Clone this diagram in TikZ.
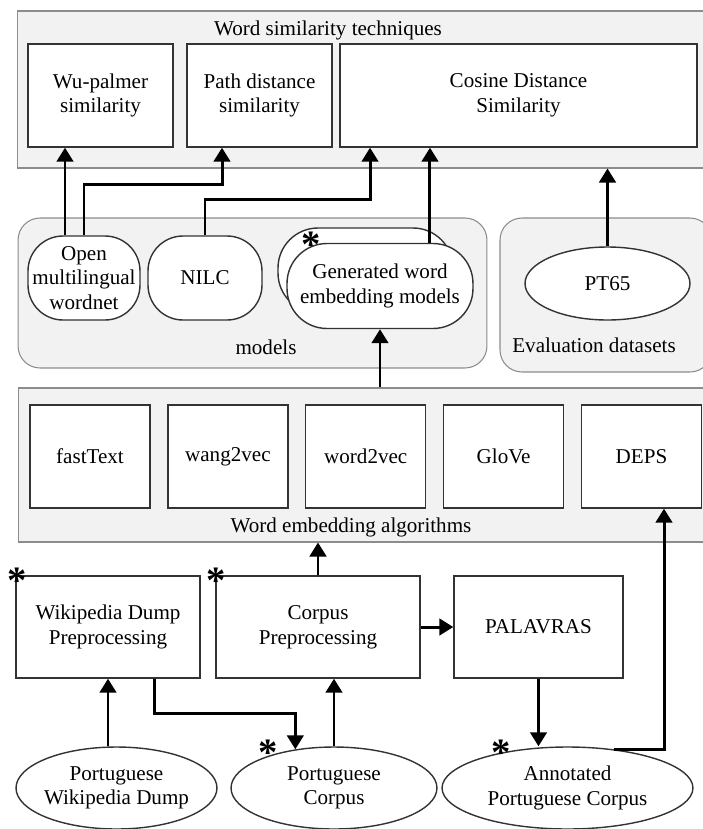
\documentclass[tikz,border=0pt]{standalone}
\usepackage{fontspec}
\setmainfont{Liberation Serif}
\usetikzlibrary{positioning}
\usetikzlibrary{arrows.meta}
\usetikzlibrary{shapes.geometric}

\begin{document}
\begin{tikzpicture}[x=0.02cm, y=-0.02cm,
    font=\fontsize{12}{14}\selectfont,
    panel/.style={draw=black!45, fill=black!5, line width=0.6pt, inner sep=0pt},
    box/.style={draw=black!80, fill=white, line width=0.8pt, align=center, inner sep=0pt},
    blob/.style={box, rounded corners=0.8cm},
    oval/.style={box, ellipse, inner xsep=-1cm, inner ysep=-0.4cm},
    flow/.style={line width=1.7pt, -{Triangle[length=2.8mm, width=3.3mm]}},
    starmark/.style={inner sep=0pt, font=\fontsize{22}{22}\selectfont\bfseries}]

    \useasboundingbox (0,0) rectangle (703,829);

    \node[panel, minimum width=13.78cm, minimum height=3.14cm] (sim) at (361.5,89.5) {};
    \node[panel, rounded corners=0.44cm, minimum width=9.38cm, minimum height=3cm] (models) at (252.5,293) {};
    \node[panel, rounded corners=0.44cm, minimum width=4.24cm, minimum height=3.08cm] (eval) at (606,295) {};
    \node[panel, minimum width=13.88cm, minimum height=3.08cm] (alg) at (365,465) {};

    \node (simlabel) at (328,30) {Word similarity techniques};
    \node (modelslabel) at (266,347) {models};
    \node (evallabel) at (594,345) {Evaluation datasets};
    \node (alglabel) at (351,527) {Word embedding algorithms};

    \node[box, minimum width=2.9cm, minimum height=2.06cm] (wu) at (100.5,95.5) {Wu-palmer\\similarity};
    \node[box, minimum width=2.9cm, minimum height=2.06cm] (path) at (259.5,95.5) {Path distance\\similarity};
    \node[box, minimum width=7.14cm, minimum height=2.06cm] (cos) at (518.5,95.5) {Cosine Distance\\Similarity};

    \node[blob, rounded corners=0.7cm, minimum width=2.24cm, minimum height=1.68cm] (omw) at (84,278) {Open\\multilingual\\wordnet};
    \node[blob, rounded corners=0.7cm, minimum width=2.28cm, minimum height=1.68cm] (nilc) at (205,278) {NILC};
    \node[blob, minimum width=3.5cm, minimum height=1.7cm] (genback) at (365.5,270.5) {};
    \node[blob, minimum width=3.72cm, minimum height=1.7cm] (gen) at (380,286) {Generated word\\embedding models};
    \node[oval, minimum width=3.3cm, minimum height=1.46cm] (pt65) at (607.5,283.5) {PT65};

    \node[box, minimum width=2.4cm, minimum height=2.06cm] (fasttext) at (90,456.5) {fastText};
    \node[box, minimum width=2.4cm, minimum height=2.06cm, right=0.33cm of fasttext] (wang) {wang2vec};
    \node[box, minimum width=2.4cm, minimum height=2.06cm, right=0.33cm of wang] (word) {word2vec};
    \node[box, minimum width=2.4cm, minimum height=2.06cm, right=0.33cm of word] (glove) {GloVe};
    \node[box, minimum width=2.4cm, minimum height=2.06cm, right=0.33cm of glove] (deps) {DEPS};

    \node[box, minimum width=3.68cm, minimum height=2.04cm] (wdp) at (108,627) {Wikipedia Dump\\Preprocessing};
    \node[box, minimum width=4.08cm, minimum height=2.04cm] (cpp) at (318,627) {Corpus\\Preprocessing};
    \node[box, minimum width=3.38cm, minimum height=2.04cm] (pal) at (538.5,627) {PALAVRAS};

    \node[oval, minimum width=4.02cm, minimum height=1.64cm] (pwd) at (116.5,788) {Portuguese\\Wikipedia Dump};
    \node[oval, minimum width=4.12cm, minimum height=1.64cm] (pc) at (334,788) {Portuguese\\Corpus};
    \node[oval, minimum width=5.02cm, minimum height=1.64cm] (apc) at (567.5,788) {Annotated\\Portuguese Corpus};

    \node[starmark] (genstar) at (311,245) {*};
    \node[starmark] (wdpstar) at (17,581) {*};
    \node[starmark] (cppstar) at (216,581) {*};
    \node[starmark] (pcstar) at (268,753) {*};
    \node[starmark] (apcstar) at (501,753) {*};

    \draw[flow] ([xshift=-0.38cm]omw.north) -- ([xshift=-0.38cm]omw.north |- wu.south);
    \draw[flow] (omw.north) -- ++(0,-51) -| ([xshift=-0.75cm]path.south);
    \draw[flow] (nilc.north) -- ++(0,-36) -| ([xshift=-2.97cm]cos.south);
    \draw[flow] ([xshift=1cm]gen.north) -- ([xshift=1cm]gen.north |- cos.south);
    \draw[flow] (pt65.north) -- (pt65.north |- sim.south);
    \draw[flow] (gen.south |- alg.north) -- (gen.south);
    \draw[flow] (cpp.north) -- (cpp.north |- alg.south);
    \draw[flow] (cpp.east) -- (pal.west);
    \draw[flow] (wdp.south |- pwd.north) -- (wdp.south);
    \draw[flow] ([xshift=0.94cm]wdp.south) -- ++(0,35) -| (pc.135);
    \draw[flow] (pc.north) -- (pc.north |- cpp.south);
    \draw[flow] (pal.south) -- (pal.south |- apc.north);
    \draw[flow] (apc.40) -| ([xshift=0.45cm]deps.south);

\end{tikzpicture}
\end{document}
